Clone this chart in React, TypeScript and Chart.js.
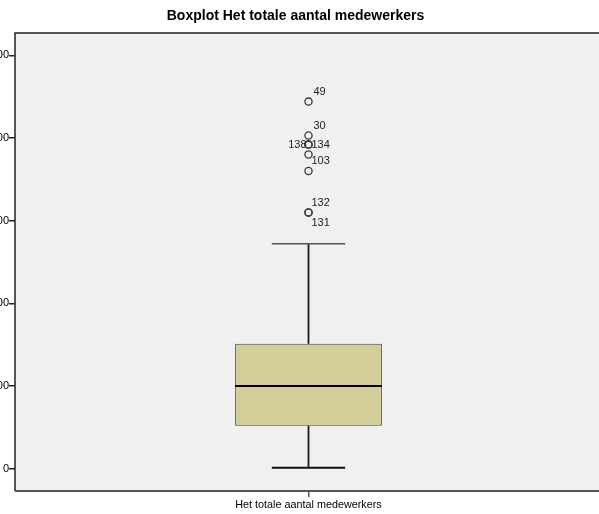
import React, { useEffect, useRef } from "react";
import { Chart, registerables } from "chart.js";

Chart.register(...registerables);

const titleText = "Boxplot Het totale aantal medewerkers";
const categories = ["Het totale aantal medewerkers"];
const boxMin = [1];
const boxQ1 = [52];
const boxMedian = [100];
const boxQ3 = [151];
const boxMax = [272];
const outlierValues = [444, 403, 392, 392, 380, 360, 310, 310];
const outlierIds = ["49", "30", "138", "134", "103", "", "132", "131"];
const yTicks = [0, 100, 200, 300, 400, 500];

// label placement styles (offsets in px relative to the point)
const labelDx = [5, 5, -2, 3, 3, 0, 3, 3];
const labelDy = [-10, -10, 0, 0, 6, 0, -9, 11];
const labelAlign: CanvasTextAlign[] = ["left", "left", "right", "left", "left", "left", "left", "left"];

const FONT = "'Liberation Sans', Arial, sans-serif";

export default function App() {
  const ref = useRef<HTMLCanvasElement | null>(null);

  useEffect(() => {
    if (!ref.current) return;

    const boxPlugin = {
      id: "boxExtras",
      beforeDraw(chart: any) {
        const { ctx, chartArea: a } = chart;
        ctx.save();
        ctx.fillStyle = "#ffffff";
        ctx.fillRect(0, 0, chart.width, chart.height);
        ctx.fillStyle = "#F0F0F0";
        ctx.fillRect(a.left, a.top, a.right - a.left, a.bottom - a.top);
        ctx.restore();
      },
      afterDatasetsDraw(chart: any) {
        const { ctx } = chart;
        const y = chart.scales.y;
        const meta = chart.getDatasetMeta(0);
        meta.data.forEach((bar: any, i: number) => {
          const cx = bar.x;
          const half = bar.width / 2;
          const capHalf = half / 2;
          const pMin = y.getPixelForValue(boxMin[i]);
          const pQ1 = y.getPixelForValue(boxQ1[i]);
          const pMed = y.getPixelForValue(boxMedian[i]);
          const pQ3 = y.getPixelForValue(boxQ3[i]);
          const pMax = y.getPixelForValue(boxMax[i]);
          ctx.save();
          // whiskers
          ctx.strokeStyle = "#1a1a1a";
          ctx.lineWidth = 1.8;
          ctx.beginPath();
          ctx.moveTo(cx, pQ3);
          ctx.lineTo(cx, pMax);
          ctx.moveTo(cx, pQ1);
          ctx.lineTo(cx, pMin);
          ctx.stroke();
          // upper cap
          ctx.strokeStyle = "#555";
          ctx.lineWidth = 1.4;
          ctx.beginPath();
          ctx.moveTo(cx - capHalf, pMax);
          ctx.lineTo(cx + capHalf, pMax);
          ctx.stroke();
          // lower cap
          ctx.strokeStyle = "#111";
          ctx.lineWidth = 2;
          ctx.beginPath();
          ctx.moveTo(cx - capHalf, pMin);
          ctx.lineTo(cx + capHalf, pMin);
          ctx.stroke();
          // median
          ctx.strokeStyle = "#000";
          ctx.lineWidth = 2;
          ctx.beginPath();
          ctx.moveTo(cx - half, pMed);
          ctx.lineTo(cx + half, pMed);
          ctx.stroke();
          ctx.restore();
        });

        // outlier labels
        const meta1 = chart.getDatasetMeta(1);
        ctx.save();
        ctx.fillStyle = "#222";
        ctx.font = `11px ${FONT}`;
        ctx.textBaseline = "middle";
        meta1.data.forEach((pt: any, i: number) => {
          if (!outlierIds[i]) return;
          ctx.textAlign = labelAlign[i];
          ctx.fillText(outlierIds[i], pt.x + labelDx[i], pt.y + labelDy[i]);
        });
        ctx.restore();
      },
      afterDraw(chart: any) {
        const { ctx, chartArea: a } = chart;
        ctx.save();
        ctx.strokeStyle = "#222";
        ctx.lineWidth = 1.5;
        ctx.beginPath();
        ctx.moveTo(a.right, a.top);
        ctx.lineTo(a.left, a.top);
        ctx.lineTo(a.left, a.bottom);
        ctx.stroke();
        ctx.strokeStyle = "#555";
        ctx.lineWidth = 2;
        ctx.beginPath();
        ctx.moveTo(a.left, a.bottom);
        ctx.lineTo(a.right, a.bottom);
        ctx.stroke();
        // title
        ctx.fillStyle = "#000";
        ctx.font = `bold 14px ${FONT}`;
        ctx.textAlign = "center";
        ctx.textBaseline = "middle";
        ctx.fillText(titleText, 295.5, 16);
        ctx.restore();
      },
    };

    const chart = new Chart(ref.current, {
      type: "bar",
      data: {
        labels: categories,
        datasets: [
          {
            type: "bar",
            data: categories.map((_, i) => [boxQ1[i], boxQ3[i]]) as any,
            backgroundColor: "#D3CE97",
            borderColor: "#444",
            borderWidth: 1,
            borderSkipped: false,
            categoryPercentage: 1,
            barPercentage: 0.25,
          },
          {
            type: "scatter",
            data: outlierValues.map((v) => ({ x: categories[0], y: v })) as any,
            pointStyle: "circle",
            pointRadius: 3.6,
            pointBorderWidth: 1.3,
            pointBorderColor: "#3a3a3a",
            pointBackgroundColor: "rgba(0,0,0,0)",
          } as any,
        ],
      },
      options: {
        responsive: false,
        animation: false,
        layout: { autoPadding: false, padding: { top: 33, left: 0, right: 0, bottom: 0 } },
        plugins: {
          legend: { display: false },
          title: { display: false },
          tooltip: { enabled: false },
        },
        scales: {
          x: {
            type: "category",
            offset: true,
            afterFit: (s: any) => {
              s.height = 23;
            },
            grid: {
              display: true,
              drawOnChartArea: false,
              drawTicks: true,
              tickLength: 6,
              color: "#555",
              lineWidth: 1.5,
              offset: false,
            },
            border: { display: false },
            ticks: {
              color: "#000",
              padding: 2,
              font: { family: FONT, size: 10.8 },
              maxRotation: 0,
            },
          },
          y: {
            type: "linear",
            min: -27,
            max: 527,
            afterFit: (s: any) => {
              s.width = 15;
            },
            afterBuildTicks: (s: any) => {
              s.ticks = yTicks.map((v) => ({ value: v }));
            },
            grid: {
              display: true,
              drawOnChartArea: false,
              drawTicks: true,
              tickLength: 6,
              color: "#222",
              lineWidth: 1.5,
            },
            border: { display: false },
            ticks: {
              color: "#000",
              padding: 0,
              font: { family: FONT, size: 11 },
              callback: (v: any) => String(v),
            },
          },
        },
      },
      plugins: [boxPlugin],
    });

    return () => chart.destroy();
  }, []);

  return (
    <div
      style={{
        position: "absolute",
        left: 0,
        top: 0,
        width: 599,
        height: 514,
        overflow: "hidden",
        background: "#fff",
      }}
    >
      <canvas ref={ref} width={602} height={514} style={{ display: "block" }} />
    </div>
  );
}
